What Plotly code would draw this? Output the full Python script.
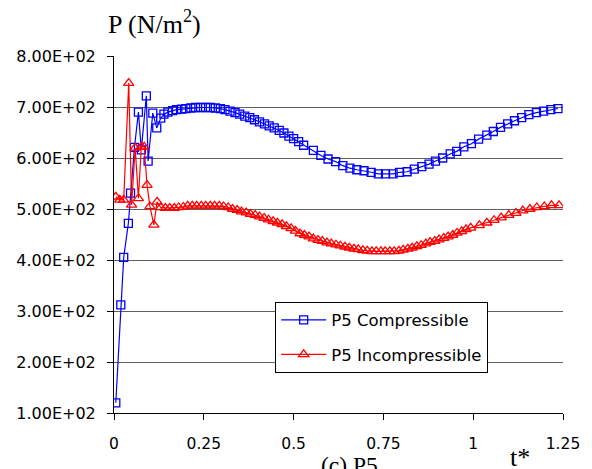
import plotly.graph_objects as go

# ---- data ----
t_comp = [0.005, 0.019, 0.027, 0.040, 0.046, 0.057, 0.068, 0.076, 0.090, 0.095,
          0.108, 0.119, 0.130, 0.139, 0.150, 0.163, 0.174, 0.188, 0.200, 0.214,
          0.227, 0.241, 0.255, 0.268, 0.282, 0.296, 0.309, 0.323, 0.337, 0.350,
          0.364, 0.378, 0.391, 0.405, 0.419, 0.432, 0.446, 0.460, 0.473, 0.487,
          0.500, 0.514, 0.528, 0.555, 0.576, 0.596, 0.617, 0.637, 0.657, 0.676,
          0.696, 0.716, 0.736, 0.756, 0.777, 0.795, 0.816, 0.836, 0.857, 0.877,
          0.895, 0.915, 0.936, 0.954, 0.974, 0.995, 1.015, 1.038, 1.056, 1.076,
          1.096, 1.115, 1.135, 1.155, 1.176, 1.196, 1.216, 1.236]
p_comp = [120, 312, 405, 472, 531, 621, 690, 616, 722, 594,
          688, 659, 678, 686, 690, 693, 695, 696, 697, 698,
          699, 699, 699, 699, 698, 697, 695, 692, 689, 686,
          682, 679, 675, 671, 667, 663, 659, 654, 649, 643,
          638, 632, 625, 615, 605, 598, 593, 585, 580, 577,
          575, 572, 569, 569, 569, 572, 573, 578, 583, 588,
          594, 600, 608, 613, 622, 628, 637, 645, 652, 660,
          667, 673, 679, 685, 689, 692, 695, 697]

t_incomp = [0.005, 0.016, 0.027, 0.041, 0.049, 0.059, 0.068, 0.076, 0.084, 0.092,
            0.100, 0.111, 0.120,
            0.130, 0.143, 0.155, 0.168, 0.180, 0.193, 0.205, 0.218, 0.230, 0.243,
            0.255, 0.268, 0.280, 0.293, 0.305, 0.318, 0.330, 0.343, 0.355, 0.368,
            0.380, 0.393, 0.405, 0.418, 0.430, 0.443, 0.455, 0.468, 0.480, 0.493,
            0.505, 0.518, 0.530, 0.543, 0.555, 0.568, 0.580, 0.593, 0.605, 0.618,
            0.630, 0.643, 0.655, 0.668, 0.680, 0.693, 0.705, 0.718, 0.730, 0.743,
            0.755, 0.768, 0.780, 0.793, 0.805, 0.818, 0.830, 0.843, 0.855, 0.868,
            0.880, 0.893, 0.905, 0.918, 0.930, 0.943, 0.955, 0.968, 0.980, 0.993,
            1.017, 1.038, 1.058, 1.078, 1.099, 1.119, 1.138, 1.158, 1.177, 1.198,
            1.218, 1.239]
p_incomp = [524, 518, 518, 747, 508, 620, 521, 622, 622, 547,
            505, 469, 514,
            503, 502, 502, 502, 503, 504, 506, 506, 506, 506,
            506, 506, 506, 506, 505, 503, 500, 498, 495, 493,
            490, 488, 485, 482, 479, 476, 473, 470, 466, 462,
            457, 452, 449, 446, 442, 439, 437, 434, 432, 430,
            428, 426, 424, 422, 421, 419, 418, 417, 417, 417,
            417, 417, 417, 418, 420, 422, 424, 427, 429, 432,
            435, 437, 440, 443, 446, 449, 453, 456, 460, 463,
            468, 473, 478, 483, 488, 492, 497, 500, 503, 505,
            507, 507]

y_ticks = [100, 200, 300, 400, 500, 600, 700, 800]
y_tick_text = ["1.00E+02", "2.00E+02", "3.00E+02", "4.00E+02",
               "5.00E+02", "6.00E+02", "7.00E+02", "8.00E+02"]
x_ticks = [0, 0.25, 0.5, 0.75, 1, 1.25]
x_tick_text = ["0", "0.25", "0.5", "0.75", "1", "1.25"]

fig = go.Figure()
fig.add_trace(go.Scatter(
    x=t_comp, y=p_comp, mode="lines+markers", name="P5 Compressible",
    legendgroup="a",
    line=dict(color="#0000FF", width=1.2),
    marker=dict(symbol="square-open", size=8, color="#0000FF",
                line=dict(width=1.3, color="#0000FF")),
))
fig.add_trace(go.Scatter(
    x=t_incomp, y=p_incomp, mode="lines+markers", name="P5 Incompressible",
    legendgroup="b",
    line=dict(color="#FF0000", width=1.2),
    marker=dict(symbol="triangle-up-open", size=9, color="#FF0000",
                line=dict(width=1.3, color="#FF0000")),
))

font_sans = "DejaVu Sans, Verdana, sans-serif"
font_serif = "Liberation Serif, Times New Roman, serif"

fig.update_layout(
    width=592, height=469,
    margin=dict(l=114, r=19, t=56, b=56),
    paper_bgcolor="white", plot_bgcolor="white",
    font=dict(family=font_sans, size=16, color="black"),
    showlegend=True,
    legend=dict(
        x=0.359, y=0.312, xanchor="left", yanchor="top",
        bgcolor="white", bordercolor="black", borderwidth=1,
        font=dict(family=font_sans, size=16.5, color="black"),
        tracegroupgap=10, itemwidth=45,
    ),
    xaxis=dict(
        range=[0, 1.25], tickvals=x_ticks, ticktext=x_tick_text,
        showgrid=False, zeroline=False,
        showline=True, linecolor="black", linewidth=1,
        ticks="outside", ticklen=6, tickcolor="black",
        ticklabelstandoff=10,
        tickfont=dict(family=font_sans, size=15.5),
    ),
    yaxis=dict(
        range=[100, 800], tickvals=y_ticks, ticktext=y_tick_text,
        showgrid=True, gridcolor="#606060", gridwidth=1,
        zeroline=False,
        showline=True, linecolor="black", linewidth=1,
        ticks="outside", ticklen=6, tickcolor="black",
        ticklabelstandoff=8,
        tickfont=dict(family=font_sans, size=16),
    ),
    annotations=[
        dict(text="P (N/m<sup>2</sup>)", xref="paper", yref="paper",
             x=-0.0174, y=1.095, xanchor="left", yanchor="middle",
             showarrow=False, font=dict(family=font_serif, size=26)),
        dict(text="t*", xref="paper", yref="paper",
             x=0.877, y=-0.078, xanchor="left", yanchor="top",
             showarrow=False, font=dict(family=font_serif, size=26)),
        dict(text="(c) P5", xref="paper", yref="paper",
             x=0.456, y=-0.105, xanchor="left", yanchor="top",
             showarrow=False, font=dict(family=font_serif, size=23.5)),
    ],
)

fig.write_html("out.html")
